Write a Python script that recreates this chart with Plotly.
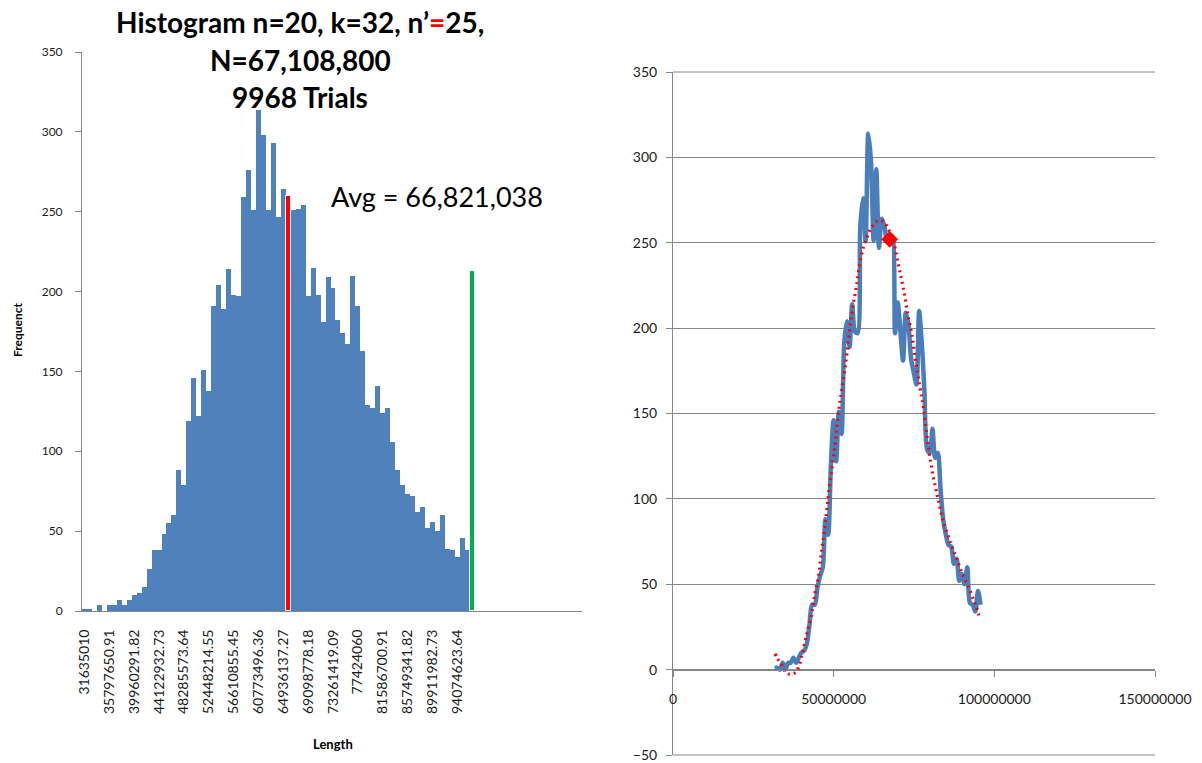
import plotly.graph_objects as go

# ---- data -------------------------------------------------------------
# Histogram category labels (every fifth bin carries a label)
bin_labels = [
    "31635010", "35797650.91", "39960291.82", "44122932.73", "48285573.64",
    "52448214.55", "56610855.45", "60773496.36", "64936137.27", "69098778.18",
    "73261419.09", "77424060", "81586700.91", "85749341.82", "89911982.73",
    "94074623.64",
]
bins_per_label = 5

# Frequency of each length bin
counts = [
    1, 1, 0, 4, 0, 4, 4, 7, 4, 7,
    10, 11, 15, 26, 38, 38, 48, 55, 60, 88,
    79, 119, 146, 122, 151, 138, 191, 204, 189, 214,
    198, 197, 259, 276, 251, 314, 298, 251, 293, 247,
    264, 260, 251, 252, 254, 197, 215, 198, 181, 209,
    202, 182, 174, 167, 210, 191, 163, 129, 127, 141,
    124, 127, 106, 88, 79, 73, 72, 62, 65, 52,
    56, 50, 60, 39, 38, 34, 46, 38,
]

avg_bin = 41          # bin holding the average length
avg_point_bin = 43    # point flagged on the line chart
extra_bar_value = 213  # highlighted bar placed after the last bin
avg_text = "Avg = 66,821,038"

# Polynomial trend line (x in millions, frequency)
trend_x_millions = [
    31.75, 32.6, 33.8, 34.6, 36.2, 37.8, 39.0, 40.0, 41.1, 42.1,
    43.2, 44.2, 45.2, 46.3, 47.3, 48.3, 49.4, 50.4, 51.1, 52.0,
    53.0, 54.1, 55.6, 57.2, 58.7, 60.1, 61.8, 63.9, 65.7, 67.0,
    68.6, 70.1, 71.2, 72.2, 73.2, 74.3, 75.3, 76.3, 77.4, 77.9,
    79.5, 81.0, 82.6, 84.1, 85.7, 87.2, 88.8, 90.4, 91.9, 93.5,
    94.7, 95.5,
]
trend_y = [
    9.3, 6.2, 2.9, -0.4, -2.7, -2.0, 1.0, 7.8, 16.6, 24.3,
    33.0, 44.8, 53.6, 70.0, 83.7, 101.0, 116.8, 131.4, 144.0, 157.7,
    169.4, 185.0, 208.0, 225.9, 243.4, 252.0, 259.0, 263.2, 261.9, 258.0,
    251.0, 237.5, 227.8, 218.0, 206.4, 196.7, 183.0, 171.3, 159.6, 154.0,
    130.4, 112.9, 99.3, 86.6, 77.9, 70.0, 62.3, 54.5, 48.7, 40.9,
    35.0, 29.6,
]

# ---- derived positions --------------------------------------------------
first_edge = float(bin_labels[0])
bin_width = (float(bin_labels[1]) - first_edge) / bins_per_label
bin_idx = list(range(len(counts)))
bin_value = [first_edge + i * bin_width for i in bin_idx]
label_idx = [i * bins_per_label for i in range(len(bin_labels))]
trend_x = [v * 1e6 for v in trend_x_millions]

W, H = 1202, 763
BLUE = "#4F81BD"
AXIS = "#868686"
FONT = "Lato, Carlito, Calibri, sans-serif"
TXT = "#1a1a1a"
Y2_RANGE = [-50, 350]


def px(x):
    return x / W


def py(y):
    return 1 - y / H


fig = go.Figure()

# Left: histogram
fig.add_trace(go.Bar(
    x=bin_idx, y=counts, width=1.0,
    marker=dict(color=BLUE, line=dict(width=0)),
    xaxis="x", yaxis="y", showlegend=False,
))
fig.add_trace(go.Bar(
    x=[avg_bin], y=[counts[avg_bin]], width=1.0,
    marker=dict(color="#FF0000", line=dict(color="white", width=1)),
    xaxis="x", yaxis="y", showlegend=False,
))
fig.add_trace(go.Bar(
    x=[len(counts)], y=[extra_bar_value], width=1.0,
    marker=dict(color="#00B050", line=dict(color="white", width=1)),
    xaxis="x", yaxis="y", showlegend=False,
))

# Right: smoothed frequency line, trend line and flagged point
fig.add_trace(go.Scatter(
    x=bin_value, y=counts, mode="lines",
    line=dict(color="#4A7EBB", width=4.5, shape="spline", smoothing=0.8),
    xaxis="x2", yaxis="y2", showlegend=False,
))
fig.add_trace(go.Scatter(
    x=trend_x, y=trend_y, mode="lines",
    line=dict(color="#FF0000", width=3.2, dash="2px,4px", shape="spline"),
    xaxis="x2", yaxis="y2", showlegend=False,
))
fig.add_trace(go.Scatter(
    x=[bin_value[avg_point_bin]], y=[counts[avg_point_bin]], mode="markers",
    marker=dict(symbol="diamond", size=13, color="#FF0000"),
    xaxis="x2", yaxis="y2", showlegend=False,
))

left_y_dom = [py(611), py(52)]
right_y_dom = [py(755), py(72)]
right_x_dom = [px(673), px(1155)]

fig.update_layout(
    width=W, height=H, autosize=False,
    margin=dict(l=0, r=0, t=0, b=0, pad=0, autoexpand=False),
    showlegend=False,
    paper_bgcolor="white", plot_bgcolor="white",
    barmode="overlay", bargap=0,
    font=dict(family=FONT, color=TXT),
    xaxis=dict(
        domain=[px(82), px(582)], anchor="y", automargin=False,
        range=[-0.5, 100.1],
        tickmode="array", tickvals=label_idx, ticktext=bin_labels,
        tickangle=-90, tickfont=dict(size=14, family=FONT, color=TXT),
        ticks="", ticklabelstandoff=12,
        showline=True, linecolor=AXIS, linewidth=1,
        showgrid=False, zeroline=False,
    ),
    yaxis=dict(
        domain=left_y_dom, anchor="x", automargin=False,
        range=[0, 350], dtick=50, tick0=0,
        tickfont=dict(size=12, family=FONT, color=TXT),
        ticks="outside", ticklen=6, tickcolor=AXIS, ticklabelstandoff=10,
        showline=True, linecolor=AXIS, linewidth=1,
        showgrid=False, zeroline=False,
    ),
    xaxis2=dict(
        domain=right_x_dom, anchor="free", automargin=False,
        position=py(670),
        range=[0, 150e6],
        tickmode="array", tickvals=[0, 50e6, 100e6, 150e6],
        ticktext=["0", "50000000", "100000000", "150000000"],
        tickfont=dict(size=14, family=FONT, color=TXT),
        ticks="outside", ticklen=6, tickcolor=AXIS, ticklabelstandoff=10,
        showline=True, linecolor=AXIS, linewidth=1,
        showgrid=False, zeroline=False,
    ),
    yaxis2=dict(
        domain=right_y_dom, anchor="x2", automargin=False,
        range=Y2_RANGE, dtick=50, tick0=0,
        tickfont=dict(size=14, family=FONT, color=TXT),
        ticks="outside", ticklen=6, tickcolor=AXIS, ticklabelstandoff=6,
        showline=True, linecolor=AXIS, linewidth=1,
        showgrid=True, gridcolor=AXIS, gridwidth=1,
        zeroline=False,
    ),
)

# Gridlines along the top and bottom edges of the right plot area
for yd in right_y_dom:
    fig.add_shape(
        type="line", xref="paper", yref="paper",
        x0=right_x_dom[0], x1=right_x_dom[1], y0=yd, y1=yd,
        line=dict(color=AXIS, width=1), layer="above",
    )

title_lines = [
    "Histogram n=20, k=32, n\u2019<span style='color:#FF0000'>=</span>25,",
    "N=67,108,800",
    "9968 Trials",
]
for text, yc in zip(title_lines, [22, 60, 97]):
    fig.add_annotation(
        text="<b>" + text + "</b>", xref="paper", yref="paper",
        x=px(300), y=py(yc), xanchor="center", yanchor="middle",
        showarrow=False, font=dict(size=28, family=FONT, color="#000"),
    )

fig.add_annotation(
    text=avg_text, xref="paper", yref="paper",
    x=px(437), y=py(196), xanchor="center", yanchor="middle",
    showarrow=False, font=dict(size=27, family=FONT, color="#000"),
)
fig.add_annotation(
    text="<b>Frequenct</b>", xref="paper", yref="paper",
    x=px(17), y=py(330), xanchor="center", yanchor="middle", textangle=-90,
    showarrow=False, font=dict(size=12, family=FONT, color="#000"),
)
fig.add_annotation(
    text="<b>Length</b>", xref="paper", yref="paper",
    x=px(333), y=py(744), xanchor="center", yanchor="middle",
    showarrow=False, font=dict(size=13, family=FONT, color="#000"),
)

fig.write_html("out.html")
